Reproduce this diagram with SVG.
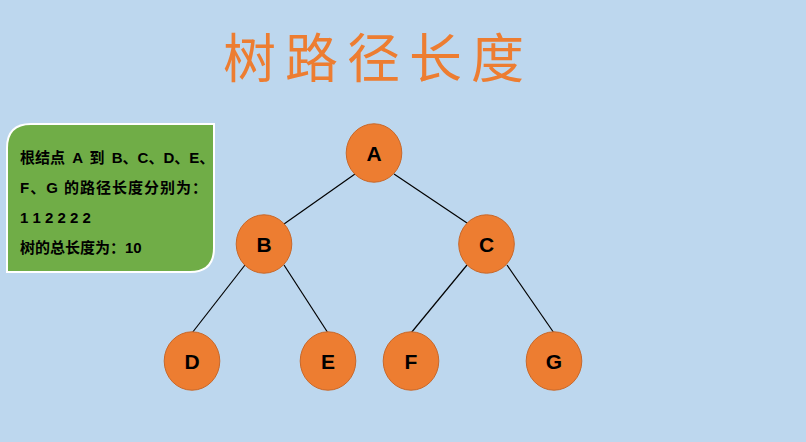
<svg xmlns="http://www.w3.org/2000/svg" width="806" height="442" viewBox="0 0 806 442">
<style>
.node{fill:#ED7D31;stroke:#C8682A;stroke-width:1}
.lbl{font-family:"Liberation Sans",Arial,sans-serif;font-weight:bold;font-size:21px;fill:#000;text-anchor:middle}
.edge{stroke:#000;stroke-width:1.2}
.info{font-family:"Liberation Sans","Noto Sans CJK SC",sans-serif;font-weight:bold;font-size:15px;fill:#000}
</style>
<rect x="0" y="0" width="806" height="442" fill="#BDD7EE"/>
<text x="378" y="78" font-family="'Noto Sans CJK SC',sans-serif" font-size="53" fill="#ED7D31" text-anchor="middle" letter-spacing="9">树路径长度</text>
<g id="info">
<path d="M31,124 H214 V248 Q214,272 190,272 H7 V148 Q7,124 31,124 Z" fill="#70AD47" stroke="#FFFFFF" stroke-width="2"/>
<text class="info" x="20" y="163" word-spacing="3">根结点 A 到 B、C、D、E、</text>
<text class="info" x="20" y="193" letter-spacing="1">F、G 的路径长度分别为：</text>
<text class="info" x="20" y="223">1 1 2 2 2 2</text>
<text class="info" x="20" y="253">树的总长度为：10</text>
</g>
<g id="connectors">
<line class="edge" x1="355" y1="174" x2="284" y2="224"/>
<line class="edge" x1="394" y1="174" x2="467" y2="223"/>
<line class="edge" x1="245" y1="265" x2="192" y2="333"/>
<line class="edge" x1="284" y1="265" x2="328" y2="333"/>
<line class="edge" x1="467" y1="265" x2="411" y2="333"/>
<line class="edge" x1="507" y1="265" x2="554" y2="333"/>
</g>
<g id="A"><ellipse class="node" cx="374" cy="153" rx="27.8" ry="29.2"/><text class="lbl" x="374" y="161">A</text></g>
<g id="B"><ellipse class="node" cx="264" cy="244" rx="27.8" ry="29.2"/><text class="lbl" x="264" y="252">B</text></g>
<g id="C"><ellipse class="node" cx="486.5" cy="244" rx="27.8" ry="29.2"/><text class="lbl" x="486.5" y="252">C</text></g>
<g id="D"><ellipse class="node" cx="192" cy="361" rx="27.8" ry="29.2"/><text class="lbl" x="192" y="369">D</text></g>
<g id="E"><ellipse class="node" cx="328" cy="361" rx="27.8" ry="29.2"/><text class="lbl" x="328" y="369">E</text></g>
<g id="F"><ellipse class="node" cx="411" cy="361" rx="27.8" ry="29.2"/><text class="lbl" x="411" y="369">F</text></g>
<g id="G"><ellipse class="node" cx="554" cy="361" rx="27.8" ry="29.2"/><text class="lbl" x="554" y="369">G</text></g>
</svg>
